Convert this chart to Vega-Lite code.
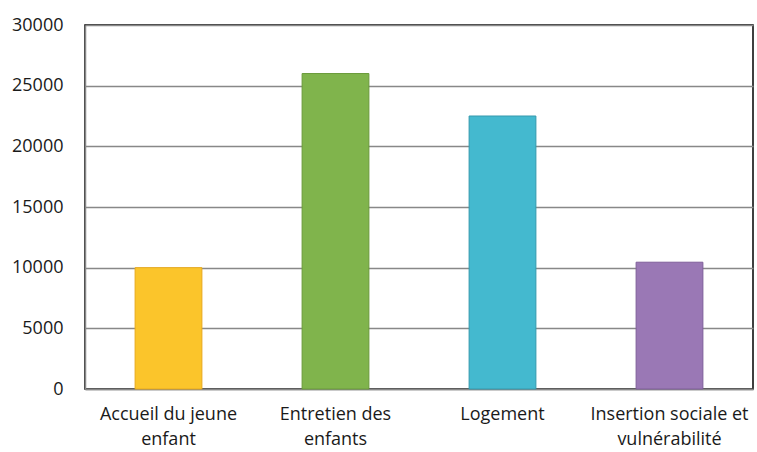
{
  "$schema": "https://vega.github.io/schema/vega-lite/v6.json",
  "autosize": "none",
  "width": 668,
  "height": 364,
  "padding": {"left": 85, "top": 25, "right": 4, "bottom": 63},
  "background": "white",
  "config": {
    "view": {"stroke": "#000000", "strokeWidth": 1.5},
    "font": "Open Sans"
  },
  "data": {
    "values": [
      {"category": "Accueil du jeune enfant", "value": 10000},
      {"category": "Entretien des enfants", "value": 26000},
      {"category": "Logement", "value": 22500},
      {"category": "Insertion sociale et vulnérabilité", "value": 10450}
    ]
  },
  "mark": {"type": "bar", "strokeWidth": 1},
  "encoding": {
    "x": {
      "field": "category",
      "type": "nominal",
      "sort": null,
      "scale": {"paddingInner": 0.6, "paddingOuter": 0.3},
      "axis": {
        "title": null,
        "labelAngle": 0,
        "labelFontSize": 18,
        "labelColor": "#1a1a1a",
        "labelPadding": 16,
        "labelLineHeight": 25,
        "labelBaseline": "top",
        "ticks": false,
        "domainColor": "#888888",
        "domainWidth": 1.5,
        "labelExpr": "datum.value == 'Accueil du jeune enfant' ? ['Accueil du jeune', 'enfant'] : datum.value == 'Entretien des enfants' ? ['Entretien des', 'enfants'] : datum.value == 'Insertion sociale et vulnérabilité' ? ['Insertion sociale et', 'vulnérabilité'] : datum.value"
      }
    },
    "y": {
      "field": "value",
      "type": "quantitative",
      "scale": {"domain": [0, 30000], "nice": false},
      "axis": {
        "title": null,
        "values": [0, 5000, 10000, 15000, 20000, 25000, 30000],
        "format": "d",
        "labelFontSize": 18,
        "labelColor": "#1a1a1a",
        "labelPadding": 22,
        "ticks": false,
        "domainColor": "#888888",
        "domainWidth": 1.5,
        "grid": true,
        "gridColor": "#888888",
        "gridWidth": 1.5
      }
    },
    "color": {
      "field": "category",
      "type": "nominal",
      "sort": null,
      "scale": {
        "domain": ["Accueil du jeune enfant", "Entretien des enfants", "Logement", "Insertion sociale et vulnérabilité"],
        "range": ["#FBC52B", "#80B44C", "#44B9CF", "#9A78B5"]
      },
      "legend": null
    },
    "stroke": {
      "field": "category",
      "type": "nominal",
      "sort": null,
      "scale": {
        "domain": ["Accueil du jeune enfant", "Entretien des enfants", "Logement", "Insertion sociale et vulnérabilité"],
        "range": ["#E8A91C", "#6A9A3A", "#3499AD", "#7E5E99"]
      },
      "legend": null
    }
  }
}
